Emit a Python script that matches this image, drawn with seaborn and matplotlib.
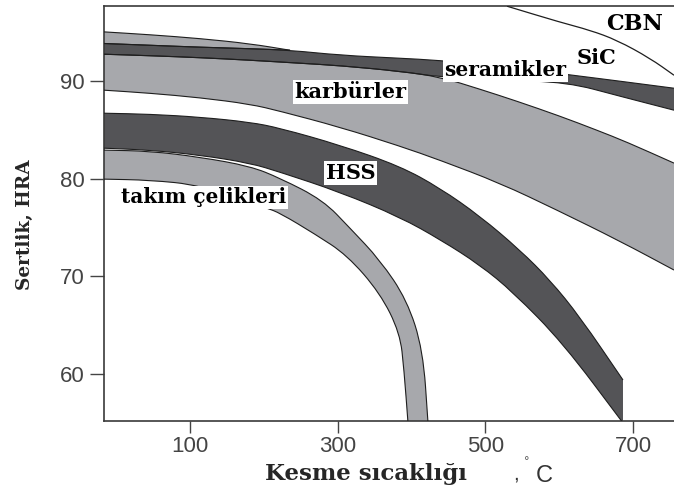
import numpy as np
import matplotlib
matplotlib.use("Agg")
import matplotlib.pyplot as plt
from matplotlib.path import Path
from matplotlib.patches import PathPatch
import seaborn as sns

# Band outlines: cutting temperature (°C) vs hardness (HRA)
sic_top_x = [-16.5, 45.8, 113.5, 181.3, 235.5]
sic_top_y = [95.05, 94.76, 94.37, 93.84, 93.17]

ceramic_top_x = [-16.5, 45.8, 113.5, 181.3, 235.5, 303.2, 384.4, 434.6, 519.9, 618.8, 682.4, 755.6]
ceramic_top_y = [93.86, 93.68, 93.48, 93.33, 93.17, 92.66, 92.35, 92.15, 91.54, 90.61, 90.00, 89.28]
ceramic_bot_x = [-16.5, 45.8, 113.5, 181.3, 249.0, 303.2, 384.4, 440.0, 519.9, 610.6, 682.4, 755.6]
ceramic_bot_y = [92.76, 92.61, 92.41, 92.15, 91.84, 91.59, 91.02, 90.41, 90.10, 89.90, 88.46, 87.03]

carbide_top_x = [-16.5, 45.8, 113.5, 181.3, 249.0, 303.2, 384.4, 440.0, 492.8, 542.9, 601.2, 651.3, 691.9, 755.6]
carbide_top_y = [92.76, 92.61, 92.41, 92.15, 91.84, 91.59, 91.02, 90.41, 89.18, 87.95, 86.42, 84.98, 83.76, 81.61]
carbide_bot_x = [-16.5, 45.8, 113.5, 181.3, 221.9, 303.2, 384.4, 438.6, 519.9, 597.1, 682.4, 755.6]
carbide_bot_y = [89.08, 88.77, 88.31, 87.65, 86.93, 85.29, 83.35, 81.91, 79.56, 76.80, 73.62, 70.66]

hss_top_x = [-16.5, 45.8, 113.5, 181.3, 221.9, 303.2, 384.4, 438.6, 492.8, 547.0, 587.6, 628.3, 686.5]
hss_top_y = [86.72, 86.62, 86.32, 85.80, 85.19, 83.45, 81.30, 79.05, 76.18, 72.70, 69.63, 65.85, 59.40]
hss_bot_x = [-16.5, 45.8, 113.5, 181.3, 221.9, 303.2, 384.4, 440.0, 492.8, 537.5, 605.2, 686.5]
hss_bot_y = [83.14, 82.94, 82.43, 81.61, 80.69, 78.64, 76.08, 73.73, 71.17, 68.40, 63.18, 55.00]

tool_top_x = [-16.5, 45.8, 113.5, 181.3, 221.9, 280.1, 316.7, 357.4, 393.9, 415.6, 422.4]
tool_top_y = [82.94, 82.84, 82.22, 81.30, 80.07, 77.82, 74.95, 71.68, 67.59, 62.47, 55.00]
tool_bot_x = [-16.5, 45.8, 113.5, 204.3, 221.9, 269.3, 312.7, 357.4, 384.4, 389.9, 395.3]
tool_bot_y = [79.97, 79.87, 79.36, 77.00, 76.49, 74.34, 72.19, 68.30, 64.21, 60.42, 55.00]

cbn_x = [529.4, 601.2, 641.8, 678.4, 723.1, 755.6]
cbn_y = [97.68, 96.04, 95.22, 94.20, 92.35, 90.61]

x_ticks = [100, 300, 500, 700]
y_ticks = [60, 70, 80, 90]

LIGHT = "#a7a8ac"
DARK = "#545457"
EDGE = "#1e1e1e"

sns.set_theme(style="white")
plt.rcParams["font.family"] = ["DejaVu Sans"]

W, H = 674, 491
fig = plt.figure(figsize=(W / 100, H / 100), dpi=100)
ax = fig.add_axes([104 / W, 1 - 421 / H, 570 / W, 415 / H])


def curve(xs, ys):
    """Smooth outline through the given points (quadratic Bezier via midpoints)."""
    pts = np.column_stack([xs, ys]).astype(float)
    verts = [pts[0]]
    codes = [Path.MOVETO]
    if len(pts) > 2:
        mids = (pts[:-1] + pts[1:]) / 2
        verts.append(mids[0])
        codes.append(Path.LINETO)
        for i in range(1, len(pts) - 1):
            verts += [pts[i], mids[i]]
            codes += [Path.CURVE3, Path.CURVE3]
    verts.append(pts[-1])
    codes.append(Path.LINETO)
    return verts, codes


def band(xt, yt, xb, yb, color):
    vt, ct = curve(xt, yt)
    vb, cb = curve(xb[::-1], yb[::-1])
    cb = [Path.LINETO] + cb[1:]
    verts = vt + vb + [vt[0]]
    codes = ct + cb + [Path.CLOSEPOLY]
    ax.add_patch(PathPatch(Path(verts, codes), facecolor=color,
                           edgecolor="none", zorder=2))
    for xs, ys in ((xt, yt), (xb, yb)):
        v, c = curve(xs, ys)
        ax.add_patch(PathPatch(Path(v, c), facecolor="none", edgecolor=EDGE,
                               lw=0.8, zorder=3))


band(sic_top_x, sic_top_y, ceramic_top_x[:5], ceramic_top_y[:5], LIGHT)
band(carbide_top_x, carbide_top_y, carbide_bot_x, carbide_bot_y, LIGHT)
band(ceramic_top_x, ceramic_top_y, ceramic_bot_x, ceramic_bot_y, DARK)
band(hss_top_x, hss_top_y, hss_bot_x, hss_bot_y, DARK)
band(tool_top_x, tool_top_y, tool_bot_x, tool_bot_y, LIGHT)

v, c = curve(cbn_x, cbn_y)
ax.add_patch(PathPatch(Path(v, c), facecolor="none", edgecolor=EDGE,
                       lw=0.9, zorder=3))

ax.set_xlim(-16.5, 755.6)
ax.set_ylim(55.2, 97.7)
ax.set_xticks(x_ticks)
ax.set_yticks(y_ticks)
ax.set_xticklabels([str(v) for v in x_ticks], family="Liberation Sans",
                   fontsize=16, color="#444444")
ax.set_yticklabels([str(v) for v in y_ticks], family="Liberation Sans",
                   fontsize=16, color="#444444")
ax.tick_params(axis="y", direction="out", length=10, width=1.0,
               color="#444444", pad=4, left=True)
ax.tick_params(axis="x", direction="out", length=8.5, width=1.0,
               color="#444444", pad=2, bottom=True)
ax.set_xlabel("")
ax.set_ylabel("")
sns.despine(ax=ax, top=False, right=True, left=False, bottom=False)
for side in ("left", "bottom", "top"):
    ax.spines[side].set_color("#3a3a3a")
    ax.spines[side].set_linewidth(1.2)
ax.grid(False)
ax.set_facecolor("white")

label_font = dict(family="DejaVu Serif", weight="bold", color="black",
                  ha="center", va="center", zorder=5)
boxed = dict(facecolor="white", edgecolor="none", pad=1.2)
ax.text(317.6, 88.9, "karbürler", fontsize=15, bbox=boxed, **label_font)
ax.text(527.0, 91.1, "seramikler", fontsize=14.5, bbox=boxed, **label_font)
ax.text(317.6, 80.6, "HSS", fontsize=15, bbox=boxed, **label_font)
ax.text(119.0, 78.1, "takım çelikleri", fontsize=14.5, bbox=boxed, **label_font)
ax.text(651.0, 92.35, "SiC", fontsize=15, **label_font)
ax.text(702.7, 95.9, "CBN", fontsize=16, **label_font)

fig.text(25 / W, 1 - 225 / H, "Sertlik, HRA", rotation=90, ha="center",
         va="center", family="DejaVu Serif", weight="bold", fontsize=13.3)
fig.text(366 / W, 1 - 480 / H, "Kesme sıcaklığı", ha="center", va="baseline",
         family="DejaVu Serif", weight="bold", fontsize=16.5)
fig.text(516 / W, 1 - 479 / H, ",", ha="center", va="baseline",
         family="Liberation Sans", fontsize=15, color="#333333")
fig.text(527 / W, 1 - 461 / H, "°", ha="center", va="center",
         family="DejaVu Sans", fontsize=8, color="#555555")
fig.text(544 / W, 1 - 482 / H, "C", ha="center", va="baseline",
         family="Liberation Sans", fontsize=17, color="#333333")

fig.savefig("out.png", dpi=100, facecolor="white")
